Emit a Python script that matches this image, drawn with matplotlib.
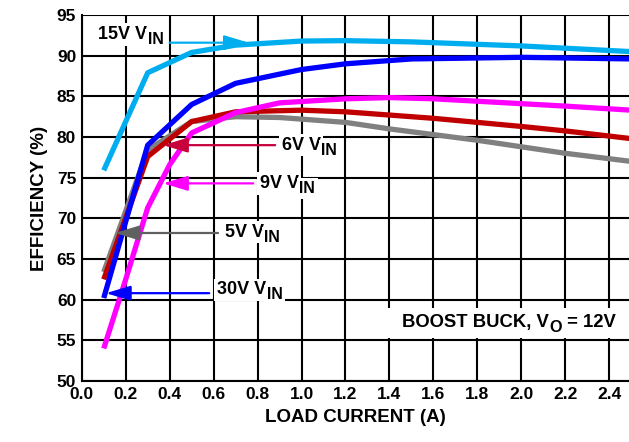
import matplotlib
matplotlib.use("Agg")
import matplotlib.pyplot as plt
from matplotlib.patches import Rectangle

plt.rcParams['font.family'] = ['Liberation Sans', 'DejaVu Sans']
plt.rcParams['font.weight'] = 'bold'

# efficiency curves
x_15v = [0.1, 0.3, 0.5, 0.7, 1.0, 1.2, 1.5, 2.0, 2.5]
y_15v = [75.9, 87.9, 90.4, 91.3, 91.8, 91.85, 91.7, 91.2, 90.5]

x_30v = [0.1, 0.3, 0.5, 0.7, 1.0, 1.2, 1.5, 2.0, 2.5]
y_30v = [60.2, 79.0, 84.0, 86.6, 88.3, 89.0, 89.6, 89.8, 89.6]

x_9v = [0.1, 0.2, 0.3, 0.4, 0.5, 0.7, 0.9, 1.2, 1.4, 1.6, 1.8, 2.0, 2.2, 2.5]
y_9v = [54.0, 62.5, 71.3, 76.6, 80.5, 83.0, 84.2, 84.7, 84.85, 84.7, 84.4, 84.1, 83.8, 83.3]

x_6v = [0.1, 0.3, 0.5, 0.7, 1.0, 1.2, 1.4, 1.6, 1.8, 2.0, 2.2, 2.5]
y_6v = [62.5, 77.6, 81.9, 83.1, 83.3, 83.1, 82.7, 82.3, 81.8, 81.3, 80.75, 79.8]

x_5v = [0.1, 0.3, 0.5, 0.7, 0.9, 1.2, 1.4, 1.6, 1.8, 2.0, 2.2, 2.5]
y_5v = [63.4, 78.4, 81.9, 82.5, 82.4, 81.8, 81.0, 80.3, 79.6, 78.8, 78.0, 77.0]

fig = plt.figure(figsize=(6.29, 4.42), dpi=100)
ax = fig.add_axes([0.130, 0.138, 0.870, 0.828])

lw = 3.8
ax.plot(x_5v, y_5v, color='#808080', lw=lw, solid_capstyle='butt', zorder=3)
ax.plot(x_6v, y_6v, color='#C00000', lw=lw, solid_capstyle='butt', zorder=3)
ax.plot(x_9v, y_9v, color='#FF00FF', lw=lw, solid_capstyle='butt', zorder=3)
ax.plot(x_30v, y_30v, color='#0000FF', lw=lw, solid_capstyle='butt', zorder=3)
ax.plot(x_15v, y_15v, color='#00AEEF', lw=lw, solid_capstyle='butt', zorder=3)

ax.set_xlim(0, 2.49)
ax.set_ylim(50, 95)
ax.set_xticks([0.0, 0.2, 0.4, 0.6, 0.8, 1.0, 1.2, 1.4, 1.6, 1.8, 2.0, 2.2, 2.4])
ax.set_yticks(range(50, 96, 5))
ax.set_xticklabels(['%.1f' % v for v in ax.get_xticks()])
ax.tick_params(length=0, labelsize=12.5, pad=4)
ax.grid(True, color='black', lw=1.5)
for s in ['left', 'bottom']:
    ax.spines[s].set_linewidth(1.5)
for s in ['top', 'right']:
    ax.spines[s].set_visible(False)

ax.set_xlabel('LOAD CURRENT (A)', fontsize=13.5, fontweight='bold', labelpad=5)
ax.set_ylabel('EFFICIENCY (%)', fontsize=13.5, fontweight='bold', labelpad=6)

drop = 3.6  # points the subscript sits below the main text


def subtext(x, y, main, sub, size=13, pad=2, subpad=2):
    # main text followed by a slightly smaller, lowered subscript
    t = ax.text(x, y, main, fontsize=size, ha='left', va='center', zorder=4,
                bbox=dict(facecolor='white', edgecolor='none', pad=pad))
    s = ax.annotate(sub, xy=(1, 0.5), xycoords=t, xytext=(0.5, -drop),
                    textcoords='offset points', fontsize=size * 0.88,
                    ha='left', va='center', zorder=4,
                    bbox=dict(facecolor='white', edgecolor='none', pad=subpad))
    return t, s


def arrow(tip, tail, color):
    ax.annotate('', xy=tip, xytext=tail,
                arrowprops=dict(arrowstyle='-|>,head_length=1.0,head_width=0.3',
                                color=color, lw=1.6, mutation_scale=15,
                                shrinkA=0, shrinkB=0),
                zorder=5)


subtext(0.073, 92.6, '15V V', 'IN')
arrow((0.76, 91.6), (0.40, 91.6), '#00AEEF')

subtext(0.91, 79.0, '6V V', 'IN')
arrow((0.37, 79.0), (0.88, 79.0), '#C8003C')

subtext(0.81, 74.3, '9V V', 'IN')
arrow((0.37, 74.3), (0.78, 74.3), '#FF00FF')

subtext(0.65, 68.3, '5V V', 'IN')
arrow((0.15, 68.2), (0.62, 68.2), '#606060')

subtext(0.614, 61.2, '30V V', 'IN')
arrow((0.11, 60.8), (0.58, 60.8), '#0000FF')

# note in the lower right corner, on a white panel that breaks the grid
ax.add_patch(Rectangle((1.39, 55.25), 1.06, 3.75, facecolor='white',
                       edgecolor='none', zorder=2.5))
t, s = subtext(1.455, 57.2, 'BOOST BUCK, V', 'O', size=13.3, pad=0, subpad=0)
ax.annotate(' = 12V', xy=(1, 0.5), xycoords=s, xytext=(0, drop),
            textcoords='offset points', fontsize=13.3, ha='left', va='center',
            zorder=4)

fig.savefig('out.png', dpi=100)
